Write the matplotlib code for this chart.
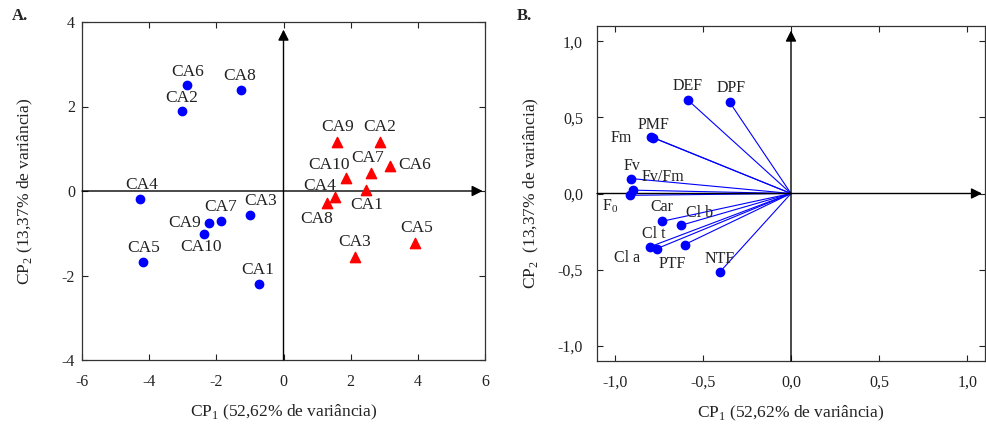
import matplotlib
matplotlib.use("Agg")
import matplotlib.pyplot as plt

plt.rcParams['font.family'] = ['Liberation Serif', 'DejaVu Serif']
plt.rcParams['mathtext.fontset'] = 'custom'
plt.rcParams['mathtext.rm'] = 'Liberation Serif'
plt.rcParams['axes.unicode_minus'] = False

# panel A: scores of the samples (two groups)
blue_names = ["CA1", "CA2", "CA3", "CA4", "CA5", "CA6", "CA7", "CA8", "CA9", "CA10"]
blue_x = [-0.74, -3.03, -0.99, -4.27, -4.17, -2.87, -1.87, -1.28, -2.23, -2.36]
blue_y = [-2.19, 1.89, -0.57, -0.20, -1.68, 2.52, -0.72, 2.40, -0.75, -1.01]

red_names = ["CA1", "CA2", "CA3", "CA4", "CA5", "CA6", "CA7", "CA8", "CA9", "CA10"]
red_x = [2.45, 2.87, 2.12, 1.53, 3.92, 3.17, 2.62, 1.30, 1.60, 1.85]
red_y = [0.02, 1.15, -1.56, -0.14, -1.24, 0.60, 0.43, -0.28, 1.15, 0.31]

# panel B: variable loadings
var_names = ["DEF", "DPF", "PMF", "Fm", "Fv", "Fv/Fm", "F$_\\mathregular{0}$",
             "Car", "Cl b", "Cl t", "Cl a", "PTF", "NTF"]
var_x = [-0.584, -0.347, -0.791, -0.780, -0.905, -0.896, -0.912,
         -0.729, -0.621, -0.800, -0.760, -0.602, -0.403]
var_y = [0.613, 0.598, 0.372, 0.365, 0.098, 0.022, -0.012,
         -0.182, -0.208, -0.350, -0.362, -0.335, -0.515]

# label offsets in pixels
blue_off = {"CA1": (-1, 14), "CA2": (0, 13), "CA3": (10, 14), "CA4": (2, 14),
            "CA5": (0, 14), "CA6": (1, 13), "CA7": (0, 14), "CA8": (-1, 14),
            "CA9": (-24, 0), "CA10": (-3, -13)}
red_off = {"CA1": (1, -15), "CA2": (0, 15), "CA3": (0, 15), "CA4": (-15, 11),
           "CA5": (1, 15), "CA6": (25, 1), "CA7": (-4, 15), "CA8": (-11, -16),
           "CA9": (0, 15), "CA10": (-17, 13)}
var_off = [(0, 14), (1, 14), (2, 12), (-32, 0), (1, 13), (30, 13), (-20, -11),
           (-1, 14), (18, 12), (4, 13), (-30, -9), (-13, -19), (0, 13)]

fig = plt.figure(figsize=(9.86, 4.24), dpi=100)
axA = fig.add_axes([82 / 986, 64 / 424, 403 / 986, 338 / 424])
axB = fig.add_axes([597 / 986, 63 / 424, 388 / 986, 335 / 424])

for ax in (axA, axB):
    ax.tick_params(direction='in', length=4, width=0.8, top=True, right=True,
                   labelsize=11.5, colors='#222222', labelcolor='#222222')
    for s in ax.spines.values():
        s.set_linewidth(0.9)
        s.set_color('#333333')

# ---- A ----
axA.set_xlim(-6, 6)
axA.set_ylim(-4, 4)
axA.set_xticks([-6, -4, -2, 0, 2, 4, 6])
axA.set_yticks([-4, -2, 0, 2, 4])
axA.tick_params(axis='x', pad=10)
axA.tick_params(axis='y', pad=5)
axA.annotate('', xy=(5.93, 0), xytext=(-6, 0),
             arrowprops=dict(arrowstyle='-|>', color='k', lw=1, mutation_scale=16,
                             shrinkA=0, shrinkB=0))
axA.annotate('', xy=(0, 3.82), xytext=(0, -4),
             arrowprops=dict(arrowstyle='-|>', color='k', lw=1, mutation_scale=16,
                             shrinkA=0, shrinkB=0))
axA.scatter(blue_x, blue_y, marker='o', s=36, color='#0000ff', zorder=3)
axA.scatter(red_x, red_y, marker='^', s=55, color='#ff0000', zorder=3)
for n, x, y in zip(blue_names, blue_x, blue_y):
    axA.annotate(n, (x, y), xytext=blue_off[n], textcoords='offset pixels',
                 ha='center', va='center', fontsize=12.5, color='#222222')
for n, x, y in zip(red_names, red_x, red_y):
    axA.annotate(n, (x, y), xytext=red_off[n], textcoords='offset pixels',
                 ha='center', va='center', fontsize=12.5, color='#222222')
axA.set_xlabel('CP$_\\mathregular{1}$ (52,62% de variância)', fontsize=12.5,
               labelpad=9, color='#222222')
axA.set_ylabel('CP$_\\mathregular{2}$ (13,37% de variância)', fontsize=12.5,
               labelpad=19, color='#222222')
fig.text(12 / 986, 1 - 16 / 424, 'A.', fontsize=12, fontweight='bold',
         ha='left', va='center', color='#222222')

# ---- B ----
axB.set_xlim(-1.1, 1.1)
axB.set_ylim(-1.1, 1.1)
ticks = [-1.0, -0.5, 0.0, 0.5, 1.0]
tlabels = ['-1,0', '-0,5', '0,0', '0,5', '1,0']
axB.set_xticks(ticks)
axB.set_xticklabels(tlabels)
axB.set_yticks(ticks)
axB.set_yticklabels(tlabels)
axB.tick_params(axis='x', pad=10)
axB.tick_params(axis='y', pad=10)
axB.annotate('', xy=(1.083, 0), xytext=(-1.1, 0),
             arrowprops=dict(arrowstyle='-|>', color='k', lw=1, mutation_scale=16,
                             shrinkA=0, shrinkB=0))
axB.annotate('', xy=(0, 1.07), xytext=(0, -1.1),
             arrowprops=dict(arrowstyle='-|>', color='k', lw=1, mutation_scale=16,
                             shrinkA=0, shrinkB=0))
for x, y in zip(var_x, var_y):
    axB.plot([0, x], [0, y], color='#0000ff', lw=0.8, zorder=2)
axB.scatter(var_x, var_y, marker='o', s=36, color='#0000ff', zorder=3)
for n, x, y, off in zip(var_names, var_x, var_y, var_off):
    axB.annotate(n, (x, y), xytext=off, textcoords='offset pixels',
                 ha='center', va='center', fontsize=11.5, color='#222222')
axB.set_xlabel('CP$_\\mathregular{1}$ (52,62% de variância)', fontsize=12.5,
               labelpad=9, color='#222222')
axB.set_ylabel('CP$_\\mathregular{2}$  (13,37% de variância)', fontsize=12.5,
               labelpad=12, color='#222222')
fig.text(517 / 986, 1 - 16 / 424, 'B.', fontsize=12, fontweight='bold',
         ha='left', va='center', color='#222222')

fig.savefig('out.png', dpi=100)
